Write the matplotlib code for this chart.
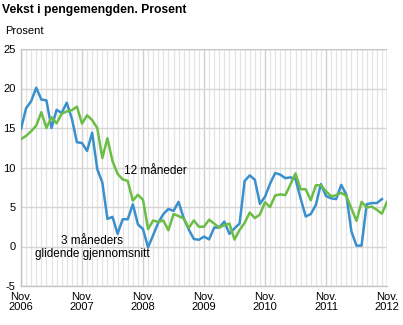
import matplotlib
matplotlib.use("Agg")
import matplotlib.pyplot as plt
from matplotlib.ticker import MultipleLocator

plt.rcParams['font.family'] = ['Liberation Sans', 'DejaVu Sans']

title = "Vekst i pengemengden. Prosent"
ylabel = "Prosent"
xtick_labels = ["Nov.\n2006", "Nov.\n2007", "Nov.\n2008", "Nov.\n2009",
                "Nov.\n2010", "Nov.\n2011", "Nov.\n2012"]
yticks = [-5, 0, 5, 10, 15, 20, 25]

# Monthly values starting Nov. 2006
three_month = [14.9, 17.5, 18.4, 20.1, 18.6, 18.5, 15.0, 17.3, 16.9, 18.2,
               16.2, 13.2, 13.1, 12.1, 14.4, 9.8, 8.1, 3.5, 3.75, 1.6,
               3.45, 3.45, 5.35, 2.8, 2.2, -0.1, 1.45, 3.0, 4.1, 4.75,
               4.5, 5.65, 3.6, 2.15, 0.95, 0.85, 1.25, 0.9, 2.4, 2.4,
               3.15, 1.6, 2.3, 2.9, 8.3, 9.0, 8.45, 5.4, 6.3, 7.95,
               9.3, 9.1, 8.65, 8.75, 8.55, 6.1, 3.8, 4.1, 5.25, 7.9,
               6.4, 6.1, 6.0, 7.8, 6.55, 1.9, 0.1, 0.12, 5.35, 5.5,
               5.5, 6.0]
twelve_month = [13.6, 14.0, 14.6, 15.3, 17.0, 15.0, 16.35, 15.6, 16.8, 17.1,
                17.25, 17.7, 15.55, 16.6, 16.0, 15.0, 11.2, 13.7, 10.8, 9.2,
                8.5, 8.3, 5.8, 6.55, 5.9, 2.2, 3.3, 3.1, 3.3, 2.05,
                4.1, 3.85, 3.55, 2.35, 3.3, 2.5, 2.5, 3.4, 2.9, 2.4,
                2.7, 2.9, 0.88, 2.1, 3.0, 4.3, 3.6, 4.05, 5.6, 5.0,
                6.45, 6.6, 6.5, 7.85, 9.25, 7.25, 7.25, 5.85, 7.75, 7.75,
                7.0, 6.35, 6.5, 6.8, 6.4, 4.8, 3.25, 5.65, 4.95, 5.05,
                4.65, 4.15, 5.65]

label_12 = "12 måneder"
label_3 = "3 måneders\nglidende gjennomsnitt"

fig = plt.figure(figsize=(4.03, 3.25), dpi=100)
ax = fig.add_axes([21/403, 39/325, 366/403, 237/325])

ax.set_xlim(0, 72)
ax.set_ylim(-5, 25)

ax.xaxis.set_major_locator(MultipleLocator(12))
ax.xaxis.set_minor_locator(MultipleLocator(1))
ax.set_yticks(yticks)
ax.set_yticklabels([str(v) for v in yticks], fontsize=8)
ax.set_xticks(range(0, 73, 12))
ax.set_xticklabels(xtick_labels, fontsize=8, linespacing=1.0)

ax.grid(which='minor', axis='x', color='#e4e4e4', lw=0.9)
ax.grid(which='major', axis='x', color='#cfcfcf', lw=1.0)
ax.grid(which='major', axis='y', color='#d6d6d6', lw=1.0)
ax.set_axisbelow(True)
ax.tick_params(which='both', length=0)
ax.tick_params(axis='y', pad=4)
ax.tick_params(axis='x', pad=4)

for s in ['top', 'right']:
    ax.spines[s].set_visible(False)
for s in ['left', 'bottom']:
    ax.spines[s].set_color('#c4c4c4')
    ax.spines[s].set_linewidth(1.0)
ax.axhline(25, color='#c4c4c4', lw=1.0, zorder=1)
ax.axvline(72, color='#c4c4c4', lw=1.0, zorder=1)

ax.plot(range(len(three_month)), three_month, color='#3a8fcd', lw=1.8,
        solid_joinstyle='round', zorder=3)
ax.plot(range(len(twelve_month)), twelve_month, color='#6abd45', lw=1.8,
        solid_joinstyle='round', zorder=4)

ax.text(20.2, 9.5, label_12, fontsize=8.5, ha='left', va='center')
ax.text(14.0, -0.1, label_3, fontsize=8.5, ha='center', va='center',
        linespacing=1.1)

fig.text(2/403, 1 - 10/325, title, fontsize=8.7, fontweight='bold',
         ha='left', va='center')
fig.text(5/403, 1 - 31/325, ylabel, fontsize=8, ha='left', va='center')

fig.savefig("out.png", dpi=100)
